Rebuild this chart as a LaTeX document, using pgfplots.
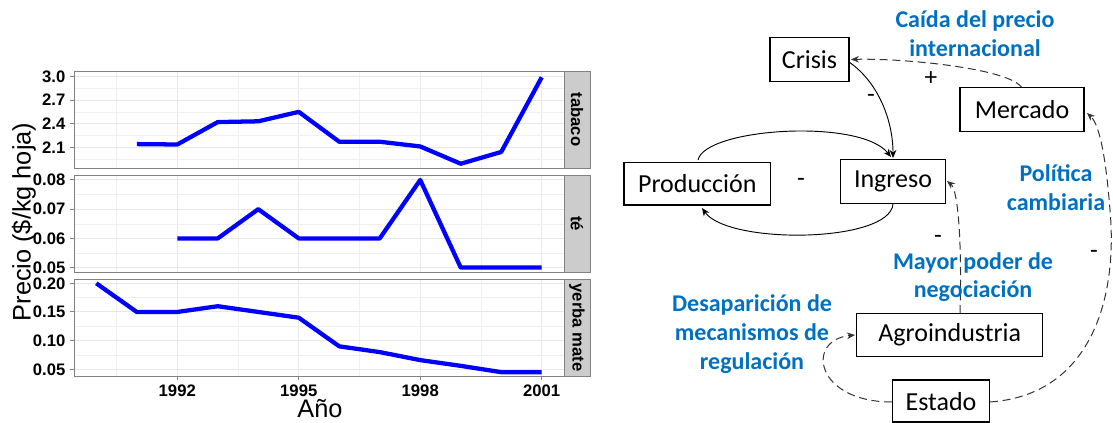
\documentclass[border=0pt]{standalone}
\usepackage{pgfplots}
\pgfplotsset{compat=1.18}
\usepackage{fontspec}
\setmainfont{Liberation Sans}
\newfontfamily\calfont{Carlito}
\usetikzlibrary{arrows.meta}
\definecolor{stripgray}{RGB}{204,204,204}
\definecolor{officeblue}{RGB}{0,112,192}
\definecolor{gridgray}{RGB}{232,232,232}
\definecolor{bordergray}{RGB}{130,130,130}

\begin{document}
\begin{tikzpicture}
\pgfplotsset{panel/.style={
  scale only axis, width=367.5pt, height=72.75pt, anchor=north west,
  xmin=1989.45, xmax=2001.55,
  xtick={1992,1995,1998,2001}, minor xtick={1990.5,1993.5,1996.5,1999.5},
  grid=both,
  major grid style={color=gridgray, line width=0.8pt},
  minor grid style={color=gridgray!70, line width=0.4pt},
  axis line style={bordergray, line width=0.7pt},
  tick style={bordergray, line width=0.7pt},
  tickpos=left, tick align=outside, major tick length=3pt, minor tick length=0pt,
  ticklabel style={font=\bfseries\fontsize{12.5}{14}\selectfont, black},
  /pgf/number format/assume math mode=true,
  scaled y ticks=false,
  x tick label style={/pgf/number format/1000 sep={}},
  y tick label style={/pgf/number format/fixed, /pgf/number format/fixed zerofill, /pgf/number format/precision=2},
}}
\path[use as bounding box] (0pt,0pt) rectangle (834.75pt,-317.25pt);

% tabaco
\begin{axis}[panel, at={(55.5pt,-53.25pt)},
  xticklabels={}, xtick style={draw=none},
  ymin=1.836, ymax=3.07,
  ytick={2.1,2.4,2.7,3.0}, minor ytick={1.95,2.25,2.55,2.85},
  y tick label style={/pgf/number format/precision=1}]
\addplot[blue, line width=3.2pt, line join=round] coordinates {
(1991,2.14) (1992,2.135) (1993,2.42) (1994,2.43) (1995,2.55) (1996,2.17)
(1997,2.17) (1998,2.11) (1999,1.89) (2000,2.04) (2001,2.99)};
\end{axis}

% te
\begin{axis}[panel, at={(55.5pt,-131.25pt)},
  xticklabels={}, xtick style={draw=none},
  ymin=0.0485, ymax=0.0817,
  ytick={0.05,0.06,0.07,0.08}, minor ytick={0.055,0.065,0.075}]
\addplot[blue, line width=3.2pt, line join=round] coordinates {
(1992,0.06) (1993,0.06) (1994,0.07) (1995,0.06) (1996,0.06) (1997,0.06)
(1998,0.08) (1999,0.05) (2000,0.05) (2001,0.05)};
\end{axis}

% yerba mate
\begin{axis}[panel, at={(55.5pt,-209.25pt)},
  ymin=0.0383, ymax=0.2075,
  ytick={0.05,0.10,0.15,0.20}, minor ytick={0.075,0.125,0.175}]
\addplot[blue, line width=3.2pt, line join=round] coordinates {
(1990,0.20) (1991,0.15) (1992,0.15) (1993,0.16) (1994,0.15) (1995,0.14)
(1996,0.09) (1997,0.08) (1998,0.066) (1999,0.056) (2000,0.045) (2001,0.045)};
\end{axis}

\begin{scope}[x=0.75pt,y=-0.75pt]
% strips
\foreach \t/\b/\lab in {71/168/tabaco,175/272/té,279/376/yerba mate}{
  \draw[fill=stripgray, draw=bordergray, line width=0.7pt] (564,\t) rectangle (590,\b);
  \node[rotate=-90, font=\bfseries\fontsize{12.5}{14}\selectfont] at (577,{(\t+\b)/2}) {\lab};
}
% axis titles
\node[rotate=90, font=\fontsize{19}{22}\selectfont] at (24,222) {Precio (\$/kg hoja)};
\node[font=\fontsize{19}{22}\selectfont] at (320,409) {Año};

% diagram boxes
\tikzset{bx/.style={draw=black, line width=0.9pt, fill=white},
  bt/.style={font=\calfont\fontsize{19.5}{23}\selectfont},
  bl/.style={font=\calfont\bfseries\fontsize{18}{21.5}\selectfont, text=officeblue, align=center},
  sg/.style={font=\calfont\fontsize{19}{22}\selectfont, inner sep=0pt},
  sol/.style={black, line width=0.7pt, -{Stealth[length=6pt,width=5pt]}},
  dsh/.style={black!80, line width=0.75pt, dash pattern=on 6pt off 3.5pt, -{Stealth[length=6pt,width=5pt]}}}

% arrows
\draw[sol] (849,62) .. controls (878,82) and (893,120) .. (893,158);
\draw[sol] (698,160) .. controls (705,128) and (860,118) .. (891,157);
\draw[sol] (893,204) .. controls (890,243) and (728,245) .. (702,208);
\draw[dsh] (1022,88) .. controls (1010,68) and (900,58) .. (851,59.5);
\draw[dsh] (960,313) .. controls (962,240) and (958,190) .. (947,181);
\draw[dsh] (990,402) .. controls (1090,395) and (1118,300) .. (1110,210) .. controls (1106,160) and (1100,125) .. (1087,113);
\draw[dsh] (892,402) .. controls (815,402) and (805,340) .. (855,335);

\draw[bx] (770,37.7) rectangle (849,81.7);
\node[bt] at (809.5,59.7) {Crisis};
\draw[bx] (960,87.7) rectangle (1084,131.7);
\node[bt] at (1022,109.7) {Mercado};
\draw[bx] (624,162.3) rectangle (770.7,205);
\node[bt] at (697.3,183.7) {Producción};
\draw[bx] (840.7,159.3) rectangle (945.3,203.3);
\node[bt] at (893,181.3) {Ingreso};
\draw[bx] (856.7,313.3) rectangle (1042.7,356.7);
\node[bt] at (949.7,335) {Agroindustria};
\draw[bx] (892.7,380) rectangle (989.3,422);
\node[bt] at (941,402) {Estado};

% blue labels
\node[bl] at (975,34) {Caída del precio\\internacional};
\node[bl] at (1056,187.5) {Política\\cambiaria};
\node[bl] at (973,277) {Mayor poder de\\negociación};
\node[bl] at (752,334) {Desaparición de\\mecanismos de\\regulación};

% signs
\node[sg] at (931,79) {+};
\node[sg] at (871,98) {-};
\node[sg] at (801,182) {-};
\node[sg] at (938,239) {-};
\node[sg] at (1094,254) {-};
\end{scope}
\end{tikzpicture}
\end{document}
